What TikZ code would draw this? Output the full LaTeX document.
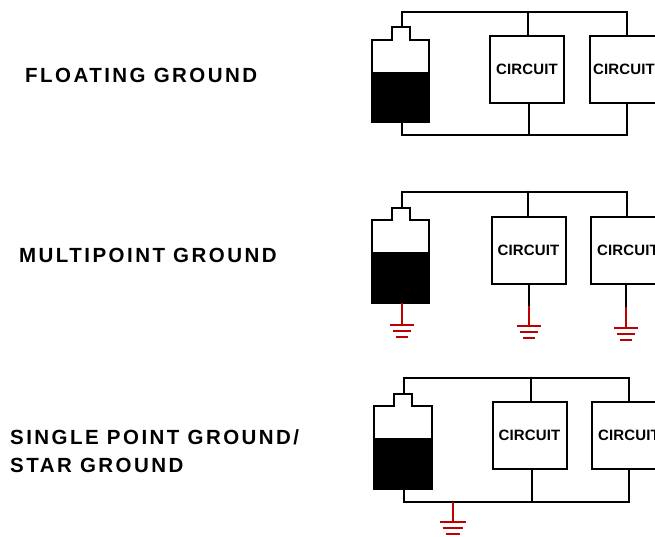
\documentclass[tikz,border=0pt]{standalone}
\usepackage{fontspec}
\setmainfont{Liberation Sans}
\newfontfamily\labelfont[LetterSpace=12]{Liberation Sans Bold}
\newfontfamily\boxfont[LetterSpace=1]{Liberation Sans Bold}
\tikzset{
  x=1pt,y=-1pt,
  wire/.style={draw=black,line width=2pt,line cap=round},
  redwire/.style={draw=red!75!black,line width=2pt},
  circuitbox/.style={draw=black,line width=2pt,fill=white,rectangle,inner sep=0pt,minimum width=74pt,minimum height=67pt,font=\boxfont\fontsize{15}{15}\selectfont},
  caption/.style={anchor=west,inner sep=0pt,align=left,font=\labelfont\fontsize{20.5}{28}\selectfont},
}
\newcommand{\batterycell}[9]{%
  % name, xl, xr, ytop, yfill, ybot, capl, capr, capy
  \coordinate (#1top) at ({(#7+#8)/2},#9);
  \coordinate (#1bot) at ({(#7+#8)/2},#6);
  \draw[wire,line join=miter] (#2,#5) -- (#2,#4) -- (#7,#4) -- (#7,#9) -- (#8,#9) -- (#8,#4) -- (#3,#4) -- (#3,#5);
  \fill[black] (#2-1,#5) rectangle (#3+1,#6+1);
}
\newcommand{\earth}[3]{%
  % x, y of top bar, half width
  \draw[redwire] (#1-#3,#2) -- (#1+#3,#2);
  \draw[redwire] (#1-#3+3,#2+6) -- (#1+#3-3,#2+6);
  \draw[redwire] (#1-#3+6,#2+11.5) -- (#1+#3-6,#2+11.5);
}
\begin{document}
\begin{tikzpicture}
\useasboundingbox (0,0) rectangle (655,536);
\clip (0,0) rectangle (655,536);
\fill[white] (0,0) rectangle (655,536);

\node[caption] (lab1) at (25,75) {FLOATING GROUND};
\node[caption] (lab2) at (19,255) {MULTIPOINT GROUND};
\node[caption] (lab3) at (10,451) {SINGLE POINT GROUND/\\STAR GROUND};

% Panel 1
\batterycell{ba}{371.5}{429}{40}{72}{122}{392}{410}{27}
\node[circuitbox] (ca) at (527,69.5) {CIRCUIT};
\node[circuitbox,minimum width=68pt] (cb) at (624,69.5) {CIRCUIT};
\coordinate (a1) at (402,12); \coordinate (a2) at (626.5,12);
\coordinate (a3) at (402,135); \coordinate (a4) at (626.5,135);
\coordinate (a5) at (528,12); \coordinate (a6) at (529,135);
\draw[wire] (batop -| a1) -- (a1) -- (a2) -- (cb.north -| a2);
\draw[wire] (a5) -- (ca.north -| a5);
\draw[wire] (babot -| a3) -- (a3) -- (a4) -- (cb.south -| a4);
\draw[wire] (a6) -- (ca.south -| a6);

% Panel 2
\batterycell{bb}{371.5}{429}{220}{252}{303}{392}{410}{208}
\node[circuitbox] (cc) at (528.5,250) {CIRCUIT};
\node[circuitbox] (cd) at (628,250) {CIRCUIT};
\coordinate (b1) at (402,191.5); \coordinate (b2) at (626.5,191.5);
\coordinate (b5) at (528,191.5);
\draw[wire] (bbtop -| b1) -- (b1) -- (b2) -- (cd.north -| b2);
\draw[wire] (b5) -- (cc.north -| b5);
\coordinate (g1) at (402,325); \coordinate (g2) at (529,326); \coordinate (g3) at (626,328);
\coordinate (g2b) at (529,306); \coordinate (g3b) at (626,307);
\draw[redwire] (bbbot -| g1) -- (g1);
\draw[wire] (cc.south -| g2) -- (g2b);
\draw[redwire] (g2b) -- (g2);
\draw[wire] (cd.south -| g3) -- (g3b);
\draw[redwire] (g3b) -- (g3);
\earth{402}{325}{12}
\earth{529}{326}{12}
\earth{626}{328}{12}

% Panel 3
\batterycell{bc}{374}{431.5}{406}{438}{489}{394}{411.5}{393.5}
\node[circuitbox] (ce) at (529.5,435.5) {CIRCUIT};
\node[circuitbox] (cf) at (629,435.5) {CIRCUIT};
\coordinate (c1) at (404,377.5); \coordinate (c2) at (629,377.5);
\coordinate (c3) at (404,502); \coordinate (c4) at (629,502);
\coordinate (c5) at (530.5,377.5); \coordinate (c6) at (532,502);
\coordinate (c7) at (452.5,502); \coordinate (c8) at (452.5,522);
\draw[wire] (bctop -| c1) -- (c1) -- (c2) -- (cf.north -| c2);
\draw[wire] (c5) -- (ce.north -| c5);
\draw[wire] (bcbot -| c3) -- (c3) -- (c4) -- (cf.south -| c4);
\draw[wire] (c6) -- (ce.south -| c6);
\draw[redwire] (c7) -- (c8);
\earth{452.5}{522}{13}
\end{tikzpicture}
\end{document}
